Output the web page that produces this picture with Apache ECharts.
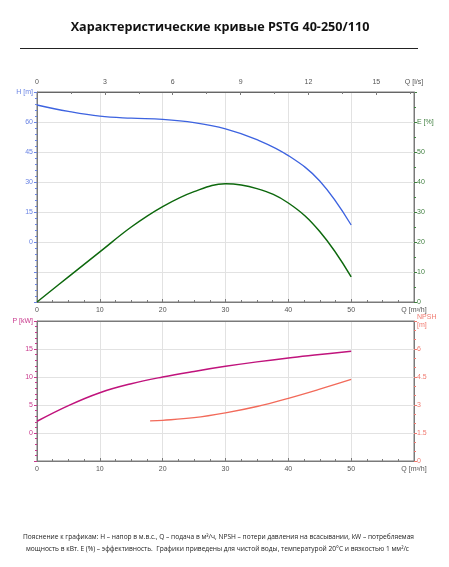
<!DOCTYPE html>
<html>
<head>
<meta charset="utf-8">
<script src="https://cdn.jsdelivr.net/npm/echarts@6/dist/echarts.min.js"></script>
<style>html,body{margin:0;padding:0;background:#fff}#c{width:449px;height:567px}</style>
</head>
<body>
<div id="c"></div>
<script>
// ---- data ----
var qHE = [0, 5, 10, 15, 20, 25, 30, 35, 40, 45, 50];          // Q [m3/h]
var headH = [68.5, 65.3, 62.9, 61.9, 61.3, 59.7, 56.6, 51.2, 43.2, 30.5, 8.5]; // H [m]
var effE = [0, 8.4, 16.7, 25, 31.8, 36.8, 39.4, 37.8, 33.0, 23.5, 8.4];       // E [%]
var powerP = [2.1, 4.9, 7.2, 8.8, 10.0, 11.0, 11.9, 12.7, 13.4, 14.0, 14.6]; // P [kW]
var qNpsh = [18, 20, 25, 30, 35, 40, 45, 50];
var npsh = [2.15, 2.18, 2.32, 2.58, 2.92, 3.36, 3.85, 4.37];               // NPSH [m]

var title = 'Характеристические кривые PSTG 40-250/110';
var note1 = 'Пояснение к графикам: H – напор в м.в.с., Q – подача в м³/ч, NPSH – потери давления на всасывании, kW – потребляемая';
var note2 = 'мощность в кВт. E (%) – эффективность.  Графики приведены для чистой воды, температурой 20°C и вязкостью 1 мм²/с';

function pairs(xs, ys) { return xs.map(function (x, i) { return [x, ys[i]]; }); }

var FONT = 'Liberation Sans';
var AX = '#7a7a7a', GRID = '#e2e2e2';
var cH = '#3d63e0', cHl = '#6a84e4', cE = '#0d680d', cEl = '#3f7f3f';
var cP = '#c0137c', cPl = '#c8388c', cN = '#f26a5a', cNl = '#f07a70';

function qAxis(grid, pos, showLabels) {
  return {
    type: 'value', gridIndex: grid, position: pos, min: 0, max: 60, interval: 10,
    axisLine: { show: true, onZero: false, lineStyle: { color: AX } },
    axisTick: { show: showLabels, inside: true, length: 3, lineStyle: { color: AX } },
    minorTick: { show: showLabels, splitNumber: 4, length: 2, lineStyle: { color: AX } },
    axisLabel: { show: showLabels, fontSize: 7, fontFamily: FONT, color: '#555', margin: 5,
      formatter: function (v) { return v >= 59.9 ? 'Q [m³/h]' : String(v); } },
    splitLine: { show: pos === 'bottom', lineStyle: { color: GRID } }
  };
}

var option = {
  animation: false,
  backgroundColor: '#fff',
  graphic: [
    { type: 'text', x: 220, y: 27, style: { text: title, font: 'bold 12.6px "Open Sans"', fill: '#111', textAlign: 'center', textVerticalAlign: 'middle' } },
    { type: 'line', shape: { x1: 20, y1: 48.5, x2: 418, y2: 48.5 }, style: { stroke: '#222', lineWidth: 1 } },
    { type: 'text', x: 218.5, y: 537, style: { text: note1, font: '6.6px "Open Sans"', fill: '#222', textAlign: 'center', textVerticalAlign: 'middle' } },
    { type: 'text', x: 217.5, y: 549, style: { text: note2, font: '6.6px "Open Sans"', fill: '#222', textAlign: 'center', textVerticalAlign: 'middle' } }
  ],
  grid: [
    { left: 37, top: 92, width: 377, height: 210, show: true, borderColor: AX, borderWidth: 1 },
    { left: 37, top: 321, width: 377, height: 140, show: true, borderColor: AX, borderWidth: 1 }
  ],
  xAxis: [
    qAxis(0, 'bottom', true),
    {
      type: 'value', gridIndex: 0, position: 'top', min: 0, max: 60 / 3.6, interval: 3,
      axisLine: { show: true, onZero: false, lineStyle: { color: '#666' } },
      axisTick: { inside: true, length: 3, lineStyle: { color: AX } },
      minorTick: { show: true, splitNumber: 2, length: 2, lineStyle: { color: AX } },
      axisLabel: { fontSize: 7, fontFamily: FONT, color: '#555', margin: 6,
        formatter: function (v) { return v > 15.5 ? 'Q [l/s]' : String(Math.round(v)); } },
      splitLine: { show: false }
    },
    qAxis(1, 'bottom', true),
    qAxis(1, 'top', false)
  ],
  yAxis: [
    {
      type: 'value', gridIndex: 0, position: 'left', min: -30, max: 75, interval: 15,
      axisLine: { show: true, onZero: false, lineStyle: { color: AX } },
      axisTick: { show: true, length: 3, lineStyle: { color: cHl } },
      minorTick: { show: true, splitNumber: 5, length: 2, lineStyle: { color: cHl } },
      axisLabel: { fontSize: 7, fontFamily: FONT, color: cHl, margin: 4,
        formatter: function (v) { return v < 0 ? '' : (v >= 75 ? 'H [m]' : String(v)); } },
      splitLine: { show: true, lineStyle: { color: GRID } }
    },
    {
      type: 'value', gridIndex: 0, position: 'right', min: 0, max: 70, interval: 10,
      axisLine: { show: true, onZero: false, lineStyle: { color: AX } },
      axisTick: { show: true, length: 3, lineStyle: { color: cEl } },
      minorTick: { show: true, splitNumber: 2, length: 2, lineStyle: { color: cEl } },
      axisLabel: { fontSize: 7, fontFamily: FONT, color: cEl, margin: 3,
        formatter: function (v) { return v >= 70 ? '' : (v === 60 ? 'E [%]' : String(v)); } },
      splitLine: { show: false }
    },
    {
      type: 'value', gridIndex: 1, position: 'left', min: -5, max: 20, interval: 5,
      axisLine: { show: true, onZero: false, lineStyle: { color: AX } },
      axisTick: { show: true, length: 3, lineStyle: { color: cPl } },
      minorTick: { show: true, splitNumber: 5, length: 2, lineStyle: { color: cPl } },
      axisLabel: { fontSize: 7, fontFamily: FONT, color: cPl, margin: 4,
        formatter: function (v) { return v < 0 ? '' : (v >= 20 ? 'P [kW]' : String(v)); } },
      splitLine: { show: true, lineStyle: { color: GRID } }
    },
    {
      type: 'value', gridIndex: 1, position: 'right', min: 0, max: 7.5, interval: 1.5,
      axisLine: { show: true, onZero: false, lineStyle: { color: AX } },
      axisTick: { show: true, length: 3, lineStyle: { color: cNl } },
      minorTick: { show: true, splitNumber: 3, length: 2, lineStyle: { color: cNl } },
      axisLabel: { fontSize: 7, fontFamily: FONT, color: cNl, margin: 3, lineHeight: 8,
        formatter: function (v) { return v >= 7.4 ? 'NPSH\n[m]' : String(v); } },
      splitLine: { show: false }
    }
  ],
  series: [
    { type: 'line', xAxisIndex: 0, yAxisIndex: 0, data: pairs(qHE, headH), smooth: 0.4, symbol: 'none',
      lineStyle: { color: cH, width: 1.3 } },
    { type: 'line', xAxisIndex: 0, yAxisIndex: 1, data: pairs(qHE, effE), smooth: 0.4, symbol: 'none',
      lineStyle: { color: cE, width: 1.5 } },
    { type: 'line', xAxisIndex: 2, yAxisIndex: 2, data: pairs(qHE, powerP), smooth: 0.4, symbol: 'none',
      lineStyle: { color: cP, width: 1.5 } },
    { type: 'line', xAxisIndex: 2, yAxisIndex: 3, data: pairs(qNpsh, npsh), smooth: 0.4, symbol: 'none',
      lineStyle: { color: cN, width: 1.3 } }
  ]
};

var chart = echarts.init(document.getElementById('c'), null, { renderer: 'canvas' });
chart.setOption(option);
</script>
</body>
</html>
